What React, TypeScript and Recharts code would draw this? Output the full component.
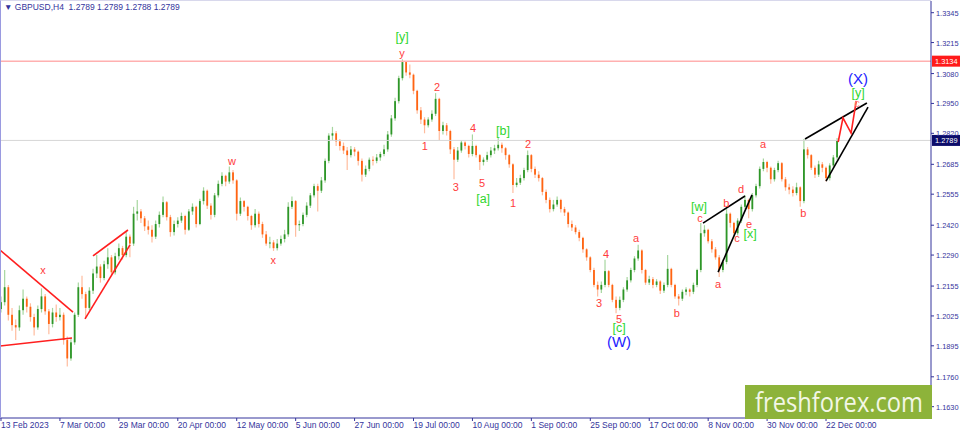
import React from 'react';
import { Bar, ComposedChart, Line, ReferenceLine, Scatter, XAxis, YAxis } from 'recharts';

document.body.style.margin = '0';

// daily candles [open, high, low, close], one array per span between date ticks
const feb13 = [
    [1.2055, 1.2110, 1.2040, 1.2085], [1.2085, 1.2225, 1.2070, 1.2150], [1.2150, 1.2160, 1.2005, 1.2030], [1.2030, 1.2060, 1.1960, 1.1985],
    [1.1985, 1.2010, 1.1920, 1.1975], [1.1975, 1.2070, 1.1960, 1.2050], [1.2050, 1.2140, 1.2030, 1.2100], [1.2100, 1.2110, 1.2040, 1.2065],
    [1.2065, 1.2080, 1.2000, 1.2020], [1.2020, 1.2035, 1.1940, 1.1975], [1.1975, 1.2070, 1.1965, 1.2055], [1.2055, 1.2145, 1.2040, 1.2110],
    [1.2110, 1.2120, 1.2030, 1.2045], [1.2045, 1.2055, 1.1945, 1.1990], [1.1990, 1.2060, 1.1975, 1.2040], [1.2040, 1.2075, 1.2000, 1.2020],
];
const mar07 = [
    [1.2020, 1.2060, 1.2005, 1.2030], [1.2030, 1.2040, 1.1900, 1.1920], [1.1920, 1.1935, 1.1805, 1.1840], [1.1840, 1.1930, 1.1830, 1.1910],
    [1.1910, 1.2040, 1.1900, 1.2030], [1.2030, 1.2170, 1.2020, 1.2150], [1.2150, 1.2200, 1.2100, 1.2120], [1.2120, 1.2130, 1.2015, 1.2060],
    [1.2060, 1.2150, 1.2050, 1.2135], [1.2135, 1.2230, 1.2120, 1.2210], [1.2210, 1.2290, 1.2190, 1.2240], [1.2240, 1.2250, 1.2170, 1.2190],
    [1.2190, 1.2265, 1.2180, 1.2250], [1.2250, 1.2320, 1.2230, 1.2280], [1.2280, 1.2290, 1.2200, 1.2215], [1.2215, 1.2300, 1.2205, 1.2285],
];
const mar29 = [
    [1.2285, 1.2340, 1.2270, 1.2320], [1.2320, 1.2330, 1.2270, 1.2290], [1.2290, 1.2390, 1.2280, 1.2370], [1.2370, 1.2380, 1.2280, 1.2340],
    [1.2340, 1.2500, 1.2330, 1.2470], [1.2470, 1.2530, 1.2440, 1.2480], [1.2480, 1.2490, 1.2430, 1.2450], [1.2450, 1.2460, 1.2395, 1.2415],
    [1.2415, 1.2440, 1.2380, 1.2400], [1.2400, 1.2420, 1.2345, 1.2370], [1.2370, 1.2440, 1.2360, 1.2425], [1.2425, 1.2480, 1.2410, 1.2465],
    [1.2465, 1.2545, 1.2455, 1.2520], [1.2520, 1.2525, 1.2440, 1.2455], [1.2455, 1.2465, 1.2370, 1.2390], [1.2390, 1.2440, 1.2375, 1.2425],
];
const apr20 = [
    [1.2425, 1.2455, 1.2410, 1.2440], [1.2440, 1.2475, 1.2430, 1.2460], [1.2460, 1.2465, 1.2380, 1.2400], [1.2400, 1.2490, 1.2395, 1.2480],
    [1.2480, 1.2515, 1.2465, 1.2500], [1.2500, 1.2505, 1.2410, 1.2425], [1.2425, 1.2535, 1.2420, 1.2525], [1.2525, 1.2585, 1.2510, 1.2570],
    [1.2570, 1.2575, 1.2490, 1.2505], [1.2505, 1.2515, 1.2445, 1.2465], [1.2465, 1.2560, 1.2455, 1.2550], [1.2550, 1.2615, 1.2540, 1.2600],
    [1.2600, 1.2650, 1.2590, 1.2635], [1.2635, 1.2640, 1.2590, 1.2610], [1.2610, 1.2675, 1.2600, 1.2650], [1.2650, 1.2660, 1.2600, 1.2615],
];
const may12 = [
    [1.2615, 1.2620, 1.2440, 1.2470], [1.2470, 1.2540, 1.2460, 1.2525], [1.2525, 1.2530, 1.2480, 1.2500], [1.2500, 1.2505, 1.2440, 1.2460],
    [1.2460, 1.2465, 1.2400, 1.2420], [1.2420, 1.2490, 1.2410, 1.2470], [1.2470, 1.2480, 1.2410, 1.2425], [1.2425, 1.2435, 1.2365, 1.2380],
    [1.2380, 1.2395, 1.2330, 1.2340], [1.2340, 1.2370, 1.2320, 1.2345], [1.2345, 1.2355, 1.2308, 1.2320], [1.2320, 1.2360, 1.2310, 1.2340],
    [1.2340, 1.2375, 1.2330, 1.2360], [1.2360, 1.2400, 1.2345, 1.2380], [1.2380, 1.2520, 1.2370, 1.2500], [1.2500, 1.2545, 1.2490, 1.2525],
];
const jun05 = [
    [1.2525, 1.2530, 1.2370, 1.2420], [1.2420, 1.2440, 1.2395, 1.2425], [1.2425, 1.2475, 1.2415, 1.2465], [1.2465, 1.2520, 1.2455, 1.2505],
    [1.2505, 1.2560, 1.2495, 1.2550], [1.2550, 1.2600, 1.2540, 1.2590], [1.2590, 1.2600, 1.2480, 1.2570], [1.2570, 1.2630, 1.2560, 1.2615],
    [1.2615, 1.2710, 1.2605, 1.2700], [1.2700, 1.2820, 1.2690, 1.2810], [1.2810, 1.2848, 1.2790, 1.2820], [1.2820, 1.2830, 1.2765, 1.2785],
    [1.2785, 1.2795, 1.2745, 1.2765], [1.2765, 1.2780, 1.2730, 1.2745], [1.2745, 1.2760, 1.2660, 1.2725], [1.2725, 1.2765, 1.2715, 1.2750],
];
const jun27 = [
    [1.2750, 1.2760, 1.2720, 1.2740], [1.2740, 1.2745, 1.2680, 1.2700], [1.2700, 1.2710, 1.2610, 1.2640], [1.2640, 1.2680, 1.2630, 1.2665],
    [1.2665, 1.2715, 1.2655, 1.2705], [1.2705, 1.2720, 1.2680, 1.2700], [1.2700, 1.2730, 1.2690, 1.2715], [1.2715, 1.2740, 1.2700, 1.2730],
    [1.2730, 1.2770, 1.2720, 1.2750], [1.2750, 1.2830, 1.2740, 1.2815], [1.2815, 1.2900, 1.2805, 1.2885], [1.2885, 1.2975, 1.2875, 1.2960],
    [1.2960, 1.3070, 1.2950, 1.3060], [1.3060, 1.3142, 1.3050, 1.3130], [1.3130, 1.3135, 1.3070, 1.3085], [1.3085, 1.3120, 1.3060, 1.3075],
];
const jul19 = [
    [1.3075, 1.3080, 1.2990, 1.3005], [1.3005, 1.3010, 1.2905, 1.2920], [1.2920, 1.2935, 1.2860, 1.2880], [1.2880, 1.2890, 1.2820, 1.2855],
    [1.2855, 1.2890, 1.2845, 1.2880], [1.2880, 1.2920, 1.2870, 1.2905], [1.2905, 1.2995, 1.2895, 1.2970], [1.2970, 1.2975, 1.2790, 1.2830],
    [1.2830, 1.2870, 1.2815, 1.2855], [1.2855, 1.2865, 1.2810, 1.2830], [1.2830, 1.2835, 1.2730, 1.2750], [1.2750, 1.2760, 1.2620, 1.2705],
    [1.2705, 1.2760, 1.2695, 1.2745], [1.2745, 1.2790, 1.2735, 1.2780], [1.2780, 1.2785, 1.2750, 1.2765], [1.2765, 1.2770, 1.2715, 1.2730],
];
const aug10 = [
    [1.2730, 1.2815, 1.2720, 1.2765], [1.2765, 1.2770, 1.2715, 1.2725], [1.2725, 1.2730, 1.2660, 1.2695], [1.2695, 1.2715, 1.2680, 1.2705],
    [1.2705, 1.2740, 1.2695, 1.2725], [1.2725, 1.2760, 1.2715, 1.2745], [1.2745, 1.2770, 1.2730, 1.2755], [1.2755, 1.2800, 1.2745, 1.2770],
    [1.2770, 1.2780, 1.2735, 1.2755], [1.2755, 1.2760, 1.2705, 1.2725], [1.2725, 1.2730, 1.2670, 1.2685], [1.2685, 1.2690, 1.2560, 1.2595],
    [1.2595, 1.2625, 1.2585, 1.2605], [1.2605, 1.2640, 1.2595, 1.2625], [1.2625, 1.2670, 1.2615, 1.2660], [1.2660, 1.2745, 1.2650, 1.2725],
];
const sep01 = [
    [1.2725, 1.2730, 1.2650, 1.2665], [1.2665, 1.2675, 1.2625, 1.2640], [1.2640, 1.2655, 1.2610, 1.2625], [1.2625, 1.2630, 1.2550, 1.2565],
    [1.2565, 1.2575, 1.2515, 1.2530], [1.2530, 1.2540, 1.2475, 1.2490], [1.2490, 1.2530, 1.2480, 1.2510], [1.2510, 1.2545, 1.2500, 1.2530],
    [1.2530, 1.2535, 1.2475, 1.2490], [1.2490, 1.2500, 1.2460, 1.2475], [1.2475, 1.2480, 1.2410, 1.2425], [1.2425, 1.2440, 1.2395, 1.2410],
    [1.2410, 1.2420, 1.2380, 1.2390], [1.2390, 1.2400, 1.2350, 1.2365], [1.2365, 1.2370, 1.2300, 1.2315], [1.2315, 1.2320, 1.2265, 1.2280],
];
const sep25 = [
    [1.2280, 1.2285, 1.2215, 1.2225], [1.2225, 1.2235, 1.2150, 1.2160], [1.2160, 1.2175, 1.2110, 1.2140], [1.2140, 1.2175, 1.2125, 1.2160],
    [1.2160, 1.2270, 1.2150, 1.2220], [1.2220, 1.2225, 1.2150, 1.2160], [1.2160, 1.2165, 1.2085, 1.2095], [1.2095, 1.2110, 1.2037, 1.2060],
    [1.2060, 1.2110, 1.2050, 1.2095], [1.2095, 1.2150, 1.2085, 1.2140], [1.2140, 1.2195, 1.2130, 1.2180], [1.2180, 1.2235, 1.2170, 1.2225],
    [1.2225, 1.2285, 1.2215, 1.2275], [1.2275, 1.2335, 1.2265, 1.2310], [1.2310, 1.2315, 1.2210, 1.2225], [1.2225, 1.2230, 1.2160, 1.2170],
];
const oct17 = [
    [1.2170, 1.2200, 1.2160, 1.2185], [1.2185, 1.2195, 1.2145, 1.2160], [1.2160, 1.2185, 1.2150, 1.2175], [1.2175, 1.2180, 1.2120, 1.2135],
    [1.2135, 1.2170, 1.2125, 1.2160], [1.2160, 1.2290, 1.2150, 1.2230], [1.2230, 1.2235, 1.2150, 1.2160], [1.2160, 1.2165, 1.2100, 1.2110],
    [1.2110, 1.2120, 1.2070, 1.2100], [1.2100, 1.2140, 1.2090, 1.2130], [1.2130, 1.2150, 1.2115, 1.2140], [1.2140, 1.2145, 1.2110, 1.2130],
    [1.2130, 1.2170, 1.2120, 1.2160], [1.2160, 1.2230, 1.2150, 1.2225], [1.2225, 1.2430, 1.2215, 1.2385], [1.2385, 1.2420, 1.2370, 1.2400],
];
const nov08 = [
    [1.2400, 1.2405, 1.2340, 1.2350], [1.2350, 1.2360, 1.2300, 1.2315], [1.2315, 1.2325, 1.2270, 1.2280], [1.2280, 1.2290, 1.2195, 1.2225],
    [1.2225, 1.2270, 1.2215, 1.2260], [1.2260, 1.2490, 1.2250, 1.2470], [1.2470, 1.2475, 1.2410, 1.2430], [1.2430, 1.2435, 1.2370, 1.2385],
    [1.2385, 1.2450, 1.2375, 1.2440], [1.2440, 1.2510, 1.2430, 1.2500], [1.2500, 1.2550, 1.2490, 1.2530], [1.2530, 1.2535, 1.2450, 1.2490],
    [1.2490, 1.2560, 1.2480, 1.2550], [1.2550, 1.2600, 1.2540, 1.2590], [1.2590, 1.2675, 1.2580, 1.2665], [1.2665, 1.2710, 1.2655, 1.2695],
];
const nov30 = [
    [1.2695, 1.2700, 1.2650, 1.2670], [1.2670, 1.2675, 1.2600, 1.2620], [1.2620, 1.2670, 1.2610, 1.2660], [1.2660, 1.2700, 1.2650, 1.2690],
    [1.2690, 1.2695, 1.2610, 1.2620], [1.2620, 1.2630, 1.2570, 1.2585], [1.2585, 1.2600, 1.2555, 1.2575], [1.2575, 1.2590, 1.2545, 1.2560],
    [1.2560, 1.2605, 1.2550, 1.2585], [1.2585, 1.2590, 1.2500, 1.2525], [1.2525, 1.2795, 1.2515, 1.2750], [1.2750, 1.2760, 1.2710, 1.2725],
    [1.2725, 1.2730, 1.2660, 1.2670], [1.2670, 1.2680, 1.2625, 1.2640], [1.2640, 1.2700, 1.2630, 1.2685], [1.2685, 1.2695, 1.2650, 1.2670],
];
const dec22 = [
    [1.2670, 1.2675, 1.2610, 1.2625], [1.2625, 1.2690, 1.2615, 1.2680], [1.2680, 1.2725, 1.2670, 1.2715], [1.2715, 1.2800, 1.2705, 1.2789],
];

const periods = [feb13, mar07, mar29, apr20, may12, jun05, jun27, jul19, aug10, sep01, sep25, oct17, nov08, nov30, dec22];
const dateLabels = [
    '13 Feb 2023', '7 Mar 00:00', '29 Mar 00:00', '20 Apr 00:00', '12 May 00:00', '5 Jun 00:00', '27 Jun 00:00',
    '19 Jul 00:00', '10 Aug 00:00', '1 Sep 00:00', '25 Sep 00:00', '17 Oct 00:00', '8 Nov 00:00', '30 Nov 00:00', '22 Dec 00:00',
];
const priceTicks = [1.3345, 1.3215, 1.3080, 1.2950, 1.2820, 1.2685, 1.2555, 1.2420, 1.2290, 1.2155, 1.2025, 1.1895, 1.1760, 1.1630];

const symbol = 'GBPUSD,H4';
const lastBar = [1.2789, 1.2789, 1.2788, 1.2789];
const highLevel = 1.3134;
const lastPrice = 1.2789;

// wave labels: day index, price, text, colour kind
const waveLabels = [
    { i: 11.4, p: 1.2225, t: 'x', k: 'r' },
    { i: 62.7, p: 1.2700, t: 'w', k: 'r' },
    { i: 73.9, p: 1.2269, t: 'x', k: 'r' },
    { i: 108.9, p: 1.3239, t: '[y]', k: 'g' },
    { i: 108.9, p: 1.3170, t: 'y', k: 'r' },
    { i: 118.4, p: 1.3022, t: '2', k: 'r' },
    { i: 115.1, p: 1.2765, t: '1', k: 'r' },
    { i: 128.2, p: 1.2843, t: '4', k: 'r' },
    { i: 136.3, p: 1.2830, t: '[b]', k: 'g' },
    { i: 143.1, p: 1.2774, t: '2', k: 'r' },
    { i: 123.5, p: 1.2586, t: '3', k: 'r' },
    { i: 130.6, p: 1.2604, t: '5', k: 'r' },
    { i: 130.9, p: 1.2534, t: '[a]', k: 'g' },
    { i: 139.0, p: 1.2517, t: '1', k: 'r' },
    { i: 172.4, p: 1.2364, t: 'a', k: 'r' },
    { i: 164.3, p: 1.2295, t: '4', k: 'r' },
    { i: 162.4, p: 1.2081, t: '3', k: 'r' },
    { i: 167.8, p: 1.2012, t: '5', k: 'r' },
    { i: 167.8, p: 1.1972, t: '[c]', k: 'g' },
    { i: 167.8, p: 1.1911, t: '(W)', k: 'b' },
    { i: 183.5, p: 1.2038, t: 'b', k: 'r' },
    { i: 189.5, p: 1.2499, t: '[w]', k: 'g' },
    { i: 189.8, p: 1.2451, t: 'c', k: 'r' },
    { i: 196.9, p: 1.2517, t: 'b', k: 'r' },
    { i: 200.9, p: 1.2578, t: 'd', k: 'r' },
    { i: 203.1, p: 1.2425, t: 'e', k: 'r' },
    { i: 199.8, p: 1.2364, t: 'c', k: 'r' },
    { i: 203.4, p: 1.2382, t: '[x]', k: 'g' },
    { i: 194.7, p: 1.2164, t: 'a', k: 'r' },
    { i: 206.9, p: 1.2774, t: 'a', k: 'r' },
    { i: 217.8, p: 1.2473, t: 'b', k: 'r' },
    { i: 232.4, p: 1.2952, t: 'c', k: 'p' },
    { i: 232.7, p: 1.2995, t: '[y]', k: 'g' },
    { i: 232.7, p: 1.3058, t: '(X)', k: 'b' },
];

// trend lines drawn on the chart: [day, price] pairs
const redLines = [
    [[-0.27, 1.2312], [19.55, 1.2042]],
    [[-0.27, 1.1894], [19.28, 1.1929]],
    [[24.98, 1.2286], [34.48, 1.2399]],
    [[22.81, 1.2012], [35.03, 1.2334]],
];
const blackLines = [
    [[190.6, 1.2429], [202.0, 1.2547]],
    [[194.7, 1.2216], [203.9, 1.2552]],
    [[218.3, 1.2795], [235.1, 1.2952]],
    [[224.0, 1.2612], [235.4, 1.2934]],
];
const projection = [
    { i: 227.3, p: 1.2782 },
    { i: 228.6, p: 1.2887 },
    { i: 230.8, p: 1.2821 },
    { i: 232.2, p: 1.2961 },
];

const candles = periods.flat().map((c, i) => ({ i, o: c[0], h: c[1], l: c[2], c: c[3] }));
const dateTicks: number[] = [];
periods.reduce((start, arr) => { dateTicks.push(start); return start + arr.length; }, 0);

const AXIS_BLUE = '#34349c';
const FONT = '"Liberation Sans", Arial, sans-serif';
const labelColors: Record<string, string> = { r: '#ff3c3c', g: '#2fd62f', b: '#2323ff', p: '#ff8080' };
const labelSizes: Record<string, number> = { r: 11, g: 12.5, b: 15, p: 11 };

const Candle = (props: any) => {
    const { x, y, width, height, payload } = props;
    if (!payload || !height) return null;
    const { o, h, l, c } = payload;
    const k = height / (h - l);
    const py = (v: number) => y + (h - v) * k;
    const cx = x + width / 2;
    const up = c >= o;
    const top = py(Math.max(o, c));
    const bh = Math.max(1, Math.abs(py(o) - py(c)));
    return (
        <g>
            <line x1={cx} x2={cx} y1={y} y2={y + height} stroke={up ? '#a6d69f' : '#ffbc9e'} strokeWidth={1.2} />
            <rect x={cx - 0.9} y={top} width={1.8} height={bh} fill={up ? '#2e9628' : '#ff6412'} />
        </g>
    );
};

const WaveLabel = (props: any) => {
    const { cx, cy, payload } = props;
    return (
        <text x={cx} y={cy} dy="0.35em" textAnchor="middle" fontFamily={FONT}
            fontSize={labelSizes[payload.k]} fill={labelColors[payload.k]}>
            {payload.t}
        </text>
    );
};

const DateTick = (props: any) => {
    const { x, y, payload } = props;
    const idx = dateTicks.indexOf(payload.value);
    return (
        <text x={x} y={y + 5} fontSize={8.5} fontFamily={FONT} fill={AXIS_BLUE} textAnchor="start">
            {dateLabels[idx]}
        </text>
    );
};

const PriceTick = (props: any) => {
    const { x, y, payload } = props;
    return (
        <text x={x} y={y + 3} fontSize={8} fontFamily={FONT} fill={AXIS_BLUE} textAnchor="start"
            textLength={22.5} lengthAdjust="spacingAndGlyphs">
            {payload.value.toFixed(4)}
        </text>
    );
};

const PriceTag = (props: any) => {
    const { viewBox, value, bg } = props;
    if (!viewBox) return null;
    const { x, y, width } = viewBox;
    return (
        <g>
            <rect x={x + width + 1} y={y - 5.5} width={28} height={11} fill={bg} />
            <text x={x + width + 4} y={y + 3} fontSize={8} fontFamily={FONT} fill="#ffffff"
                textLength={22.5} lengthAdjust="spacingAndGlyphs">
                {value.toFixed(4)}
            </text>
        </g>
    );
};

export default function App() {
    return (
        <div style={{ position: 'relative', width: 960, height: 433, background: '#ffffff', overflow: 'hidden' }}>
            <ComposedChart width={960} height={433} data={candles} margin={{ top: 1, right: 0, bottom: 0, left: 0 }}>
                <XAxis
                    dataKey="i"
                    type="number"
                    domain={[-0.27, 252.5]}
                    allowDataOverflow
                    ticks={dateTicks}
                    tick={<DateTick />}
                    tickSize={3}
                    height={15}
                    stroke={AXIS_BLUE}
                    interval={0}
                />
                <YAxis
                    orientation="right"
                    type="number"
                    domain={[1.15807, 1.33959]}
                    allowDataOverflow
                    ticks={priceTicks}
                    tick={<PriceTick />}
                    tickSize={3}
                    width={29}
                    stroke={AXIS_BLUE}
                    interval={0}
                />
                <ReferenceLine y={lastPrice} stroke="#d6d6d6" ifOverflow="visible"
                    label={<PriceTag value={lastPrice} bg="#0c0c6a" />} />
                <ReferenceLine y={highLevel} stroke="#ffb0b0" strokeWidth={1.5} ifOverflow="visible"
                    label={<PriceTag value={highLevel} bg="#ff1a1a" />} />
                <Bar dataKey={(d: any) => [d.l, d.h]} barSize={2} shape={<Candle />} isAnimationActive={false} />
                {redLines.map((s, n) => (
                    <ReferenceLine key={`r${n}`} ifOverflow="visible" stroke="#ff1f1f" strokeWidth={1.6}
                        segment={[{ x: s[0][0], y: s[0][1] }, { x: s[1][0], y: s[1][1] }]} />
                ))}
                {blackLines.map((s, n) => (
                    <ReferenceLine key={`b${n}`} ifOverflow="visible" stroke="#000000" strokeWidth={1.6}
                        segment={[{ x: s[0][0], y: s[0][1] }, { x: s[1][0], y: s[1][1] }]} />
                ))}
                <Line data={projection} dataKey="p" stroke="#ff2020" strokeWidth={1.6} dot={false}
                    isAnimationActive={false} type="linear" />
                <Scatter data={waveLabels} dataKey="p" shape={<WaveLabel />} isAnimationActive={false} />
            </ComposedChart>

            <div style={{ position: 'absolute', left: 0, top: 0, width: 931, height: 418, borderLeft: '1px solid #9a9ae0', borderTop: '1px solid #d8d8ec', boxSizing: 'border-box', pointerEvents: 'none' }} />

            <div style={{ position: 'absolute', left: 4, top: 2, fontFamily: FONT, fontSize: 8.5, color: AXIS_BLUE, whiteSpace: 'pre' }}>
                {'\u25BC ' + symbol + '  ' + lastBar.map((v) => v.toFixed(4)).join(' ')}
            </div>

            <div style={{ position: 'absolute', left: 745, top: 385, width: 187, height: 34, background: '#8db33a' }}>
                <svg width={187} height={34}>
                    <text x={10} y={27} fontSize={28} fontFamily='"Open Sans", sans-serif' fill="#f3f7e6"
                        textLength={168} lengthAdjust="spacingAndGlyphs">freshforex.com</text>
                </svg>
            </div>
        </div>
    );
}
